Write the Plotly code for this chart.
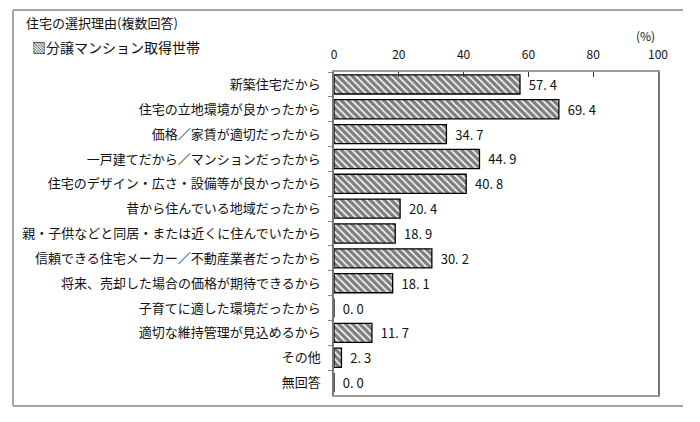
import plotly.graph_objects as go

# 住宅の選択理由（複数回答）- 分譲マンション取得世帯
categories = [
    "新築住宅だから",
    "住宅の立地環境が良かったから",
    "価格／家賃が適切だったから",
    "一戸建てだから／マンションだったから",
    "住宅のデザイン・広さ・設備等が良かったから",
    "昔から住んでいる地域だったから",
    "親・子供などと同居・または近くに住んでいたから",
    "信頼できる住宅メーカー／不動産業者だったから",
    "将来、売却した場合の価格が期待できるから",
    "子育てに適した環境だったから",
    "適切な維持管理が見込めるから",
    "その他",
    "無回答",
]
values = [57.4, 69.4, 34.7, 44.9, 40.8, 20.4, 18.9, 30.2, 18.1, 0.0, 11.7, 2.3, 0.0]
x_ticks = [0, 20, 40, 60, 80, 100]
series_name = "分譲マンション取得世帯"

font_jp = "Noto Sans CJK JP"
labels = ["  " + f"{v:.1f}".replace(".", ". ") for v in values]

fig = go.Figure()
fig.add_trace(go.Bar(
    y=categories,
    x=values,
    orientation="h",
    name=series_name,
    width=0.77,
    marker=dict(
        color="white",
        line=dict(color="black", width=1.3),
        pattern=dict(shape="\\", fgcolor="black", bgcolor="white", size=5, solidity=0.7),
    ),
    text=labels,
    textposition="outside",
    textfont=dict(family=font_jp, size=13, color="#111"),
    cliponaxis=False,
    showlegend=False,
))

# the page body has an 8px margin, so work in reference pixels minus 8
OFF = 8
W, H = 684, 406
L, T = 334 - OFF, 72 - OFF
R = W - (658 - OFF)
B = H - (395 - OFF)
pw, ph = W - L - R, H - T - B


def px_x(p):
    return (p - OFF - L) / pw


def px_y(p):
    return 1 - (p - OFF - T) / ph


frame = dict(type="line", xref="paper", yref="paper", line=dict(color="#888", width=1.5))
fig.update_layout(
    width=W, height=H,
    margin=dict(l=L, r=R, t=T, b=B),
    plot_bgcolor="white",
    paper_bgcolor="white",
    font=dict(family=font_jp, size=13, color="#111"),
    xaxis=dict(
        side="top", range=[0, 100], tickvals=x_ticks,
        ticks="inside", ticklen=5, tickcolor="#333",
        ticklabelstandoff=6,
        showgrid=False, zeroline=False,
        showline=True, linecolor="#999", linewidth=1.5, mirror=True,
        tickfont=dict(family=font_jp, size=12, color="#111"),
    ),
    yaxis=dict(
        autorange="reversed", ticks="outside", ticklen=4, tickcolor="#888",
        tickson="boundaries", showgrid=False, ticklabelstandoff=9,
        showline=True, linecolor="#777", linewidth=1.5, mirror=True,
        tickfont=dict(family=font_jp, size=13, color="#111"),
    ),
    annotations=[
        dict(text="住宅の選択理由(複数回答)", xref="paper", yref="paper",
             x=px_x(24), y=px_y(22), xanchor="left", yanchor="middle",
             showarrow=False, font=dict(family=font_jp, size=13, color="#111")),
        dict(text="▧" + series_name, xref="paper", yref="paper",
             x=px_x(30), y=px_y(47), xanchor="left", yanchor="middle",
             showarrow=False, font=dict(family=font_jp, size=14, color="#111")),
        dict(text="(%)", xref="paper", yref="paper",
             x=px_x(645), y=px_y(35), xanchor="center", yanchor="middle",
             showarrow=False, font=dict(family=font_jp, size=12, color="#111")),
    ],
    shapes=[
        dict(frame, x0=px_x(13), x1=px_x(13), y0=px_y(10), y1=px_y(406)),
        dict(frame, x0=px_x(13), x1=px_x(683), y0=px_y(10), y1=px_y(10)),
        dict(frame, x0=px_x(13), x1=px_x(683), y0=px_y(406), y1=px_y(406)),
    ],
)

fig.write_html("out.html")
